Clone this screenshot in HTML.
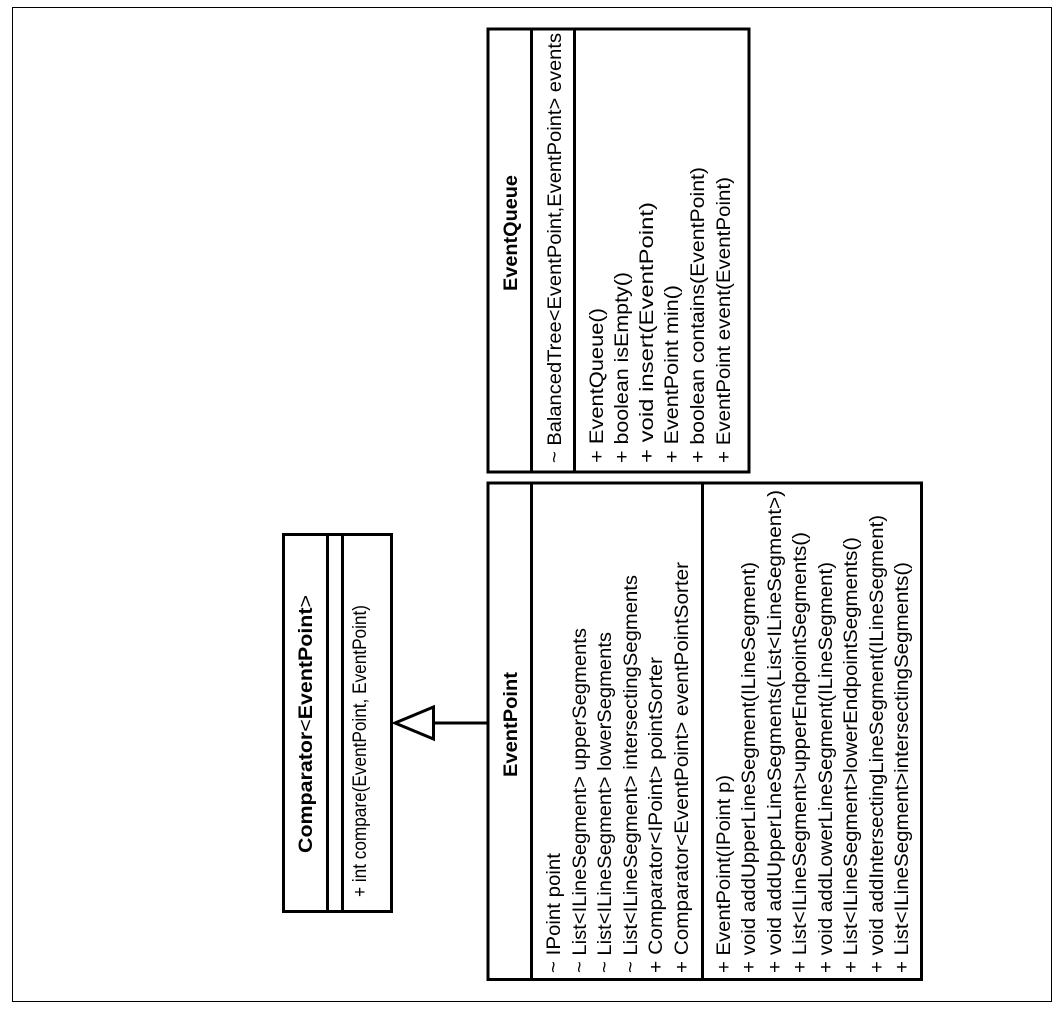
<!DOCTYPE html>
<html>
<head>
<meta charset="utf-8">
<style>
  html, body { margin: 0; padding: 0; background: #ffffff; }
  svg { display: block; }
  text { font-family: "Liberation Sans", "DejaVu Sans", sans-serif; font-size: 19px; fill: #000; }
  .b { font-weight: bold; }
</style>
</head>
<body>
<svg width="1064" height="1009" viewBox="0 0 1064 1009" xmlns="http://www.w3.org/2000/svg">
  <rect x="0" y="0" width="1064" height="1009" fill="#ffffff"/>
  <!-- outer frame -->
  <rect x="12.5" y="7.5" width="1039" height="994" fill="none" stroke="#000" stroke-width="1"/>

  <!-- EventQueue box -->
  <rect x="488" y="29" width="261" height="443" fill="#fff" stroke="#000" stroke-width="3"/>
  <line x1="531.5" y1="29" x2="531.5" y2="472" stroke="#000" stroke-width="3"/>
  <line x1="574.5" y1="29" x2="574.5" y2="472" stroke="#000" stroke-width="3"/>

  <text class="b" text-anchor="middle" transform="translate(517,233) rotate(-90)" textLength="116" lengthAdjust="spacingAndGlyphs">EventQueue</text>
  <text transform="translate(561,463) rotate(-90)" textLength="430" lengthAdjust="spacingAndGlyphs">~ BalancedTree&lt;EventPoint,EventPoint&gt; events</text>
  <text transform="translate(603,463) rotate(-90)" textLength="155" lengthAdjust="spacingAndGlyphs">+ EventQueue()</text>
  <text transform="translate(628,463) rotate(-90)" textLength="191" lengthAdjust="spacingAndGlyphs">+ boolean isEmpty()</text>
  <text transform="translate(653,463) rotate(-90)" textLength="261" lengthAdjust="spacingAndGlyphs">+ void insert(EventPoint)</text>
  <text transform="translate(678,463) rotate(-90)" textLength="178" lengthAdjust="spacingAndGlyphs">+ EventPoint min()</text>
  <text transform="translate(704,463) rotate(-90)" textLength="296" lengthAdjust="spacingAndGlyphs">+ boolean contains(EventPoint)</text>
  <text transform="translate(730,463) rotate(-90)" textLength="286" lengthAdjust="spacingAndGlyphs">+ EventPoint event(EventPoint)</text>

  <!-- EventPoint box -->
  <rect x="488" y="483" width="433.5" height="496.5" fill="#fff" stroke="#000" stroke-width="3"/>
  <line x1="531.5" y1="483" x2="531.5" y2="979.5" stroke="#000" stroke-width="3"/>
  <line x1="702.5" y1="483" x2="702.5" y2="979.5" stroke="#000" stroke-width="3"/>

  <text class="b" text-anchor="middle" transform="translate(517,724.5) rotate(-90)" textLength="105" lengthAdjust="spacingAndGlyphs">EventPoint</text>
  <text transform="translate(560,973) rotate(-90)" textLength="120" lengthAdjust="spacingAndGlyphs">~ IPoint point</text>
  <text transform="translate(586,973) rotate(-90)" textLength="345" lengthAdjust="spacingAndGlyphs">~ List&lt;ILineSegment&gt; upperSegments</text>
  <text transform="translate(611,973) rotate(-90)" textLength="341" lengthAdjust="spacingAndGlyphs">~ List&lt;ILineSegment&gt; lowerSegments</text>
  <text transform="translate(637,973) rotate(-90)" textLength="398" lengthAdjust="spacingAndGlyphs">~ List&lt;ILineSegment&gt; intersectingSegments</text>
  <text transform="translate(662,973) rotate(-90)" textLength="316" lengthAdjust="spacingAndGlyphs">+ Comparator&lt;IPoint&gt; pointSorter</text>
  <text transform="translate(688,973) rotate(-90)" textLength="411" lengthAdjust="spacingAndGlyphs">+ Comparator&lt;EventPoint&gt; eventPointSorter</text>

  <text transform="translate(730,973) rotate(-90)" textLength="198" lengthAdjust="spacingAndGlyphs">+ EventPoint(IPoint p)</text>
  <text transform="translate(755,973) rotate(-90)" textLength="411" lengthAdjust="spacingAndGlyphs">+ void addUpperLineSegment(ILineSegment)</text>
  <text transform="translate(781,973) rotate(-90)" textLength="483" lengthAdjust="spacingAndGlyphs">+ void addUpperLineSegments(List&lt;ILineSegment&gt;)</text>
  <text transform="translate(806,973) rotate(-90)" textLength="441" lengthAdjust="spacingAndGlyphs">+ List&lt;ILineSegment&gt;upperEndpointSegments()</text>
  <text transform="translate(832,973) rotate(-90)" textLength="411" lengthAdjust="spacingAndGlyphs">+ void addLowerLineSegment(ILineSegment)</text>
  <text transform="translate(857,973) rotate(-90)" textLength="436" lengthAdjust="spacingAndGlyphs">+ List&lt;ILineSegment&gt;lowerEndpointSegments()</text>
  <text transform="translate(883,973) rotate(-90)" textLength="458" lengthAdjust="spacingAndGlyphs">+ void addIntersectingLineSegment(ILineSegment)</text>
  <text transform="translate(908,973) rotate(-90)" textLength="411" lengthAdjust="spacingAndGlyphs">+ List&lt;ILineSegment&gt;intersectingSegments()</text>

  <!-- Comparator box -->
  <rect x="283.5" y="534.5" width="108" height="377" fill="#fff" stroke="#000" stroke-width="3"/>
  <line x1="327.5" y1="534.5" x2="327.5" y2="911.5" stroke="#000" stroke-width="3"/>
  <line x1="342.5" y1="534.5" x2="342.5" y2="911.5" stroke="#000" stroke-width="3"/>

  <text class="b" text-anchor="middle" transform="translate(312,724) rotate(-90)" textLength="258" lengthAdjust="spacingAndGlyphs">Comparator<tspan font-weight="normal">&lt;</tspan>EventPoint<tspan font-weight="normal">&gt;</tspan></text>
  <text transform="translate(366,897) rotate(-90)" textLength="292" lengthAdjust="spacingAndGlyphs">+ int compare(EventPoint, EventPoint)</text>

  <!-- Generalization arrow -->
  <line x1="433.5" y1="723" x2="488" y2="723" stroke="#000" stroke-width="3"/>
  <polygon points="395,723 433.5,707 433.5,739" fill="#fff" stroke="#000" stroke-width="3" stroke-linejoin="miter"/>
</svg>
</body>
</html>
